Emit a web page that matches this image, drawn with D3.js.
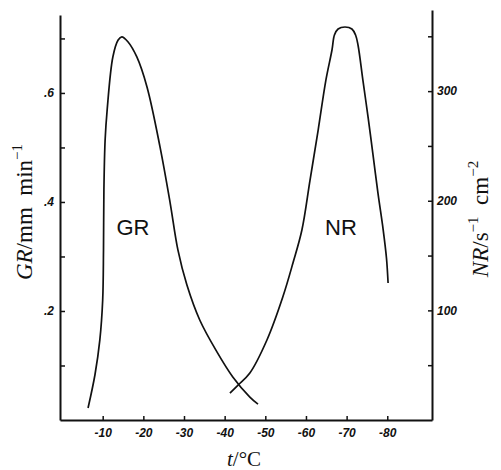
<!DOCTYPE html>
<html>
<head>
<meta charset="utf-8">
<script src="https://cdn.jsdelivr.net/npm/d3@7"></script>
<style>
  body { margin: 0; background: #fff; }
  .tick text { font-family: "Liberation Sans", Arial, sans-serif; font-style: italic; font-weight: bold; font-size: 12px; }
  .title { font-family: "Liberation Serif", "Times New Roman", serif; fill: #111; }
  .curvelabel { font-family: "Liberation Sans", Arial, sans-serif; font-size: 22px; fill: #111; }
</style>
</head>
<body>
<div id="chart"></div>
<script>
// GR curve, temperature (C) vs growth rate (mm/min)
var grT   = [-6.4, -8.1, -9.3, -10.0, -10.2, -10.3, -10.6, -11.1, -12.5, -13.8, -14.7, -16.2, -18.4, -20.9, -24.1, -26.6, -28.5, -30.7, -33.9, -38.1, -42.0, -46.2, -48.2];
var grVal = [0.022, 0.083, 0.147, 0.220, 0.312, 0.422, 0.514, 0.569, 0.666, 0.697, 0.703, 0.694, 0.666, 0.611, 0.501, 0.398, 0.312, 0.248, 0.183, 0.125, 0.079, 0.042, 0.029];

// NR curve, temperature (C) vs nucleation rate (s-1 cm-2)
var nrT   = [-41.3, -43.3, -46.2, -50.4, -54.3, -56.8, -59.0, -61.0, -63.0, -64.9, -66.4, -67.0, -67.9, -69.6, -71.3, -72.2, -72.8, -74.0, -75.3, -76.5, -77.7, -79.0, -79.8, -80.2];
var nrVal = [24.6, 31.9, 42.9, 73.0, 112.2, 143.2, 173.3, 218.9, 264.5, 310.1, 337.5, 351.2, 356.7, 358.5, 356.7, 351.2, 342.1, 310.1, 275.5, 241.7, 207.1, 173.3, 147.8, 125.0];

// ticks
var xTicks = [-10, -20, -30, -40, -50, -60, -70, -80];
var xTickLabels = ["-10", "-20", "-30", "-40", "-50", "-60", "-70", "-80"];
var grTicks = [0.1, 0.2, 0.3, 0.4, 0.5, 0.6, 0.7];
var grTickLabels = ["", ".2", "", ".4", "", ".6", ""];
var nrTicks = [50, 100, 150, 200, 250, 300, 350];
var nrTickLabels = ["", "100", "", "200", "", "300", ""];

var svgWidth = 501, svgHeight = 470;
var svg = d3.select("#chart").append("svg").attr("width", svgWidth).attr("height", svgHeight);

var xScale  = d3.scaleLinear().domain([0.5, -91]).range([60, 432]);
var grScale = d3.scaleLinear().domain([0, 0.743]).range([420, 15]);
var nrScale = d3.scaleLinear().domain([0, 374]).range([420, 10]);

// axes
var bottomAxis = d3.axisBottom(xScale).tickValues(xTicks).tickSizeInner(-4).tickSizeOuter(0).tickPadding(8)
                   .tickFormat((d, i) => xTickLabels[i]);
var leftAxis = d3.axisLeft(grScale).tickValues(grTicks).tickSizeInner(-5).tickSizeOuter(0).tickPadding(6)
                   .tickFormat((d, i) => grTickLabels[i]);
var rightAxis = d3.axisRight(nrScale).tickValues(nrTicks).tickSizeInner(-4).tickSizeOuter(0).tickPadding(5)
                   .tickFormat((d, i) => nrTickLabels[i]);

var xAxis = svg.append("g").attr("transform", "translate(0,420)").call(bottomAxis);
var yAxis = svg.append("g").attr("transform", "translate(60,0)").call(leftAxis);
var y2Axis = svg.append("g").attr("transform", "translate(432,0)").call(rightAxis);

[xAxis, yAxis, y2Axis].forEach(function(a) {
  a.select(".domain").attr("stroke", "#111").attr("stroke-width", 2);
  a.selectAll(".tick line").attr("stroke", "#111").attr("stroke-width", 1.5);
  a.selectAll(".tick text").attr("fill", "#111");
});

// curves
var grLine = d3.line().x((d, i) => xScale(grT[i])).y(d => grScale(d)).curve(d3.curveCatmullRom.alpha(0.5));
var nrLine = d3.line().x((d, i) => xScale(nrT[i])).y(d => nrScale(d)).curve(d3.curveCatmullRom.alpha(0.5));

svg.append("path").datum(grVal).attr("d", grLine)
   .attr("fill", "none").attr("stroke", "#111").attr("stroke-width", 1.7);
svg.append("path").datum(nrVal).attr("d", nrLine)
   .attr("fill", "none").attr("stroke", "#111").attr("stroke-width", 1.7);

// curve labels
svg.append("text").attr("class", "curvelabel").attr("x", 133).attr("y", 235).attr("text-anchor", "middle").text("GR");
svg.append("text").attr("class", "curvelabel").attr("x", 341).attr("y", 235).attr("text-anchor", "middle").text("NR");

// axis titles
var leftTitle = svg.append("text").attr("class", "title").attr("font-size", 23)
   .attr("transform", "translate(32,212) rotate(-90)").attr("text-anchor", "middle");
leftTitle.append("tspan").attr("font-style", "italic").text("GR");
leftTitle.append("tspan").text("/mm\u2002min");
leftTitle.append("tspan").attr("font-size", 15).attr("dy", -10).text("\u22121");

var rightTitle = svg.append("text").attr("class", "title").attr("font-size", 23)
   .attr("transform", "translate(488,219) rotate(-90)").attr("text-anchor", "middle");
rightTitle.append("tspan").attr("font-style", "italic").text("NR");
rightTitle.append("tspan").text("/s");
rightTitle.append("tspan").attr("font-size", 15).attr("dy", -10).text("\u22121");
rightTitle.append("tspan").attr("dy", 10).text("\u2002cm");
rightTitle.append("tspan").attr("font-size", 15).attr("dy", -10).text("\u22122");

var xTitle = svg.append("text").attr("class", "title").attr("font-size", 21)
   .attr("x", 244).attr("y", 466).attr("text-anchor", "middle");
xTitle.append("tspan").attr("font-style", "italic").text("t");
xTitle.append("tspan").text("/\u00b0C");
</script>
</body>
</html>
